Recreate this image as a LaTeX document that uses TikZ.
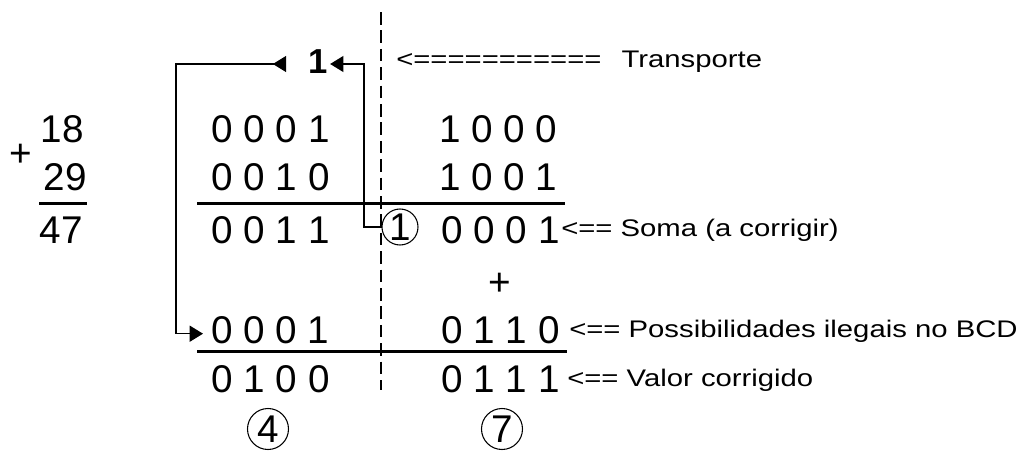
\documentclass[tikz,border=0pt]{standalone}
\usepackage{fontspec}
\setmainfont{Liberation Sans}
\newfontfamily\notefont[FakeStretch=1.22]{Liberation Sans}
\usetikzlibrary{arrows.meta}

\begin{document}
\begin{tikzpicture}[x=0.75pt, y=-0.75pt,
  num/.style={inner sep=0pt, outer sep=0pt, font=\fontsize{29}{29}\selectfont},
  digits/.style={num, anchor=base west},
  note/.style={inner sep=0pt, anchor=base west, font=\notefont\fontsize{18}{18}\selectfont},
  circled/.style={num, circle, draw, line width=0.8pt, minimum size=#1},
  rule/.style={line width=2.25pt},
  conn/.style={line width=1.1pt},
  divider/.style={line width=1.3pt, dash pattern=on 9.5pt off 4.3pt}
]
\useasboundingbox (0,0) rectangle (1019,450);

% decimal addition 18 + 29 = 47
\node[num, anchor=base] (plusL) at (21,166) {+};
\node[num, anchor=base] (a18) at (62.5,142) {18};
\node[num, anchor=base] (a29) at (65.5,190) {29};
\node[num, anchor=base] (a47) at (61.5,243) {47};
\coordinate (dl1) at (39,203);
\coordinate (dl2) at (87,203);
\draw[rule] (dl1) -- (dl2);

% tens digit column
\node[digits] (l1) at (211.5,142) {0 0 0 1};
\node[digits] (l2) at (211.5,190) {0 0 1 0};
\node[digits] (l3) at (211.5,243) {0 0 1 1};
\node[digits] (l5) at (211,343) {0 0 0 1};
\node[digits] (l6) at (211.5,392) {0 1 0 0};

% units digit column
\node[digits] (r1) at (439,142) {1 0 0 0};
\node[digits] (r2) at (439,190) {1 0 0 1};
\node[digits] (r3) at (441.5,243) {0 0 0 1};
\node[num, anchor=base] (plusR) at (500,295) {+};
\node[digits] (r5) at (441.5,343) {0 1 1 0};
\node[digits] (r6) at (441.5,392) {0 1 1 1};

% sum rules
\coordinate (s1a) at (197,203);
\coordinate (s1b) at (565,203);
\coordinate (s2a) at (197,351);
\coordinate (s2b) at (567,351);
\draw[rule] (s1a) -- (s1b);
\draw[rule] (s2a) -- (s2b);

% column divider
\coordinate (dtop) at (381,12);
\coordinate (dbot) at (381,390);
\draw[divider] (dtop) -- (dbot);

% circled digits
\node[circled=27pt] (c1) at (400,227) {1};
\node[circled=30.75pt] (c4) at (268,429) {4};
\node[circled=30.75pt] (c7) at (502,429) {7};

% carry
\node[num, anchor=base, font=\bfseries\fontsize{26}{26}\selectfont] (carry) at (318.5,73) {1};
\coordinate (carryout) at ([xshift=-17pt, yshift=6.75pt]carry.base west);
\coordinate (rail) at (176,64);

\draw[conn, -{Triangle[length=10pt, width=12pt]}]
  (c1.west) -- ++(-18,0) |- ([yshift=6.75pt, xshift=1.5pt]carry.base east);
\draw[conn, {Triangle[reversed, length=10pt, width=12pt]}-{Triangle[length=10pt, width=12pt]}]
  (carryout) -- (rail) |- ([xshift=-6pt, yshift=-3pt]l5.west);

% annotations
\node[note] (tTr) at (396,67) {<===========\hspace{0.5em} Transporte};
\node[note] (tSo) at (561,236) {<== Soma (a corrigir)};
\node[note] (tPo) at (569,337) {<== Possibilidades ilegais no BCD};
\node[note] (tVa) at (567,386) {<== Valor corrigido};
\end{tikzpicture}
\end{document}
